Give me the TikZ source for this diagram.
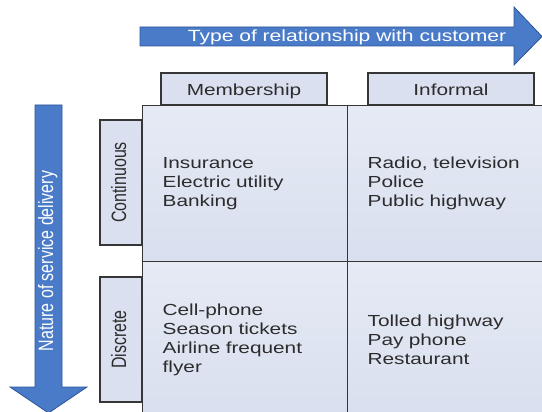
\documentclass[tikz,border=0pt]{standalone}
\usepackage{fontspec}
\usepackage{graphicx}
\setmainfont{Liberation Sans}[FakeStretch=1.3]
\newfontfamily\uprightsans{Liberation Sans}

\definecolor{arrowblue}{HTML}{4A7BC9}
\definecolor{arrowedge}{HTML}{2D5597}
\definecolor{boxfill}{HTML}{DAE0EF}
\definecolor{celltop}{HTML}{E6EAF5}
\definecolor{cellbot}{HTML}{D8DFEE}
\definecolor{rule}{HTML}{363636}
\definecolor{ink}{HTML}{2C2C2C}

\tikzset{
  bigarrow/.style={fill=arrowblue, draw=arrowedge, line width=0.8pt, line join=miter},
  arrowlabel/.style={text=white, inner sep=0pt},
  headbox/.style={draw=rule, line width=1.1pt, fill=boxfill, text=ink,
    minimum width=166pt, minimum height=32pt, inner sep=0pt,
    text height=14pt, text depth=0pt, font=\fontsize{16pt}{19pt}\selectfont},
  sidebox/.style={draw=rule, line width=1.1pt, fill=boxfill, text=ink, rotate=90,
    minimum width=125pt, minimum height=42pt, inner sep=0pt,
    text height=12pt, text depth=2pt, font=\fontsize{16pt}{19pt}\selectfont},
  cell/.style={draw=rule, line width=1.3pt, top color=celltop, bottom color=cellbot,
    text=ink, anchor=north west, minimum height=156pt, inner xsep=20pt, inner ysep=0pt,
    text width=165pt, align=left, font=\fontsize{16pt}{19pt}\selectfont},
}

\begin{document}
\begin{tikzpicture}[x=1pt, y=-1pt]
  \useasboundingbox (0,0) rectangle (542,412);
  \clip (0,0) rectangle (542,412);

  % horizontal axis arrow
  \path[bigarrow] (140,27) -- (514,27) -- (514,7) -- (542,36.5) -- (514,65)
    -- (514,46) -- (140,46) -- cycle;
  \node[arrowlabel, anchor=base, font=\fontsize{16.2pt}{19pt}\selectfont]
    (typerel) at (347,41.5) {Type of relationship with customer};

  % vertical axis arrow
  \path[bigarrow] (35,105) -- (62,105) -- (62,387) -- (87,387) -- (48.5,413)
    -- (10,387) -- (35,387) -- cycle;
  \node[arrowlabel, rotate=90, text height=11pt, text depth=2pt,
    font=\fontsize{16pt}{19pt}\uprightsans]
    (nature) at (48.5,261) {\scalebox{1}[1.3]{Nature of service delivery}};

  % column headers
  \node[headbox] (membership) at (244,89) {Membership};
  \node[headbox] (informal) at (451,89) {Informal};

  % row headers
  \node[sidebox] (continuous) at (121,182.5)
    {\uprightsans\scalebox{1}[1.3]{Continuous}};
  \node[sidebox] (discrete) at (121,339.5)
    {\uprightsans\scalebox{1}[1.3]{Discrete}};

  % the four quadrants
  \node[cell] (memcont) at (142,105) {Insurance\\Electric utility\\Banking};
  \node[cell] (infcont) at (347,105) {Radio, television\\Police\\Public highway};
  \node[cell] (memdisc) at (142,261)
    {Cell-phone\\Season tickets\\Airline frequent\\flyer};
  \node[cell] (infdisc) at (347,261) {Tolled highway\\Pay phone\\Restaurant};
\end{tikzpicture}
\end{document}
